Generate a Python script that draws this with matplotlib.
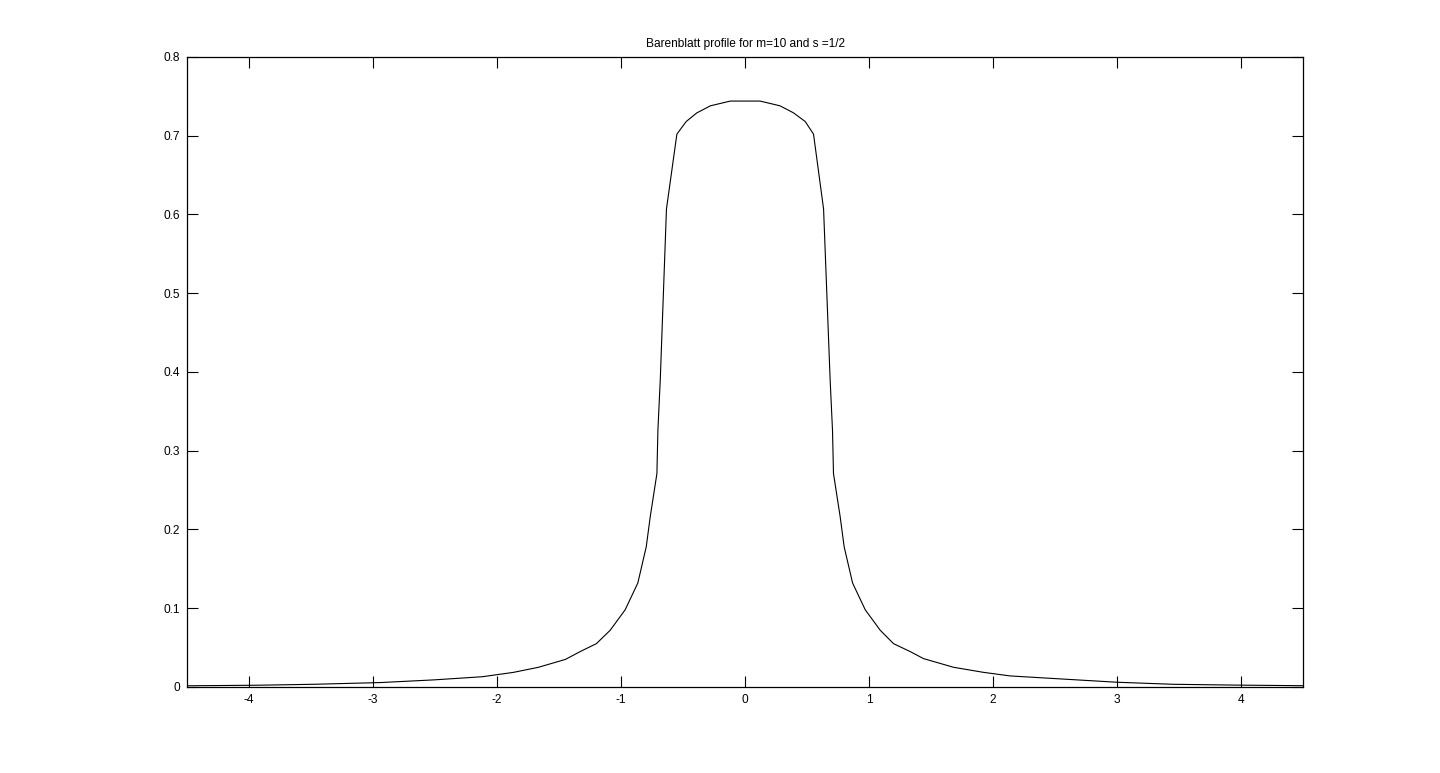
import matplotlib
matplotlib.use("Agg")
import matplotlib.pyplot as plt

# Barenblatt profile, m=10, s=1/2
x = [-4.5, -3.94, -3.48, -2.94, -2.51, -2.12, -1.87, -1.667, -1.45, -1.33,
     -1.2, -1.089, -0.968, -0.866, -0.798, -0.766, -0.712, -0.704, -0.685, -0.635,
     -0.551, -0.476, -0.39, -0.28, -0.12, 0.12, 0.28, 0.39, 0.484, 0.551,
     0.632, 0.685, 0.704, 0.712, 0.766, 0.798, 0.866, 0.968, 1.089, 1.196,
     1.33, 1.438, 1.68, 1.92, 2.137, 2.567, 2.998, 3.45, 3.94, 4.5]
u = [0.0015, 0.0022, 0.0034, 0.0056, 0.0090, 0.013, 0.0185, 0.025, 0.035, 0.045,
     0.055, 0.072, 0.098, 0.132, 0.178, 0.216, 0.271, 0.326, 0.39, 0.607,
     0.702, 0.718, 0.729, 0.738, 0.744, 0.744, 0.738, 0.729, 0.718, 0.702,
     0.607, 0.39, 0.326, 0.271, 0.216, 0.178, 0.132, 0.098, 0.072, 0.055,
     0.045, 0.036, 0.025, 0.0186, 0.014, 0.010, 0.006, 0.0034, 0.0024, 0.0016]

xticks = [-4, -3, -2, -1, 0, 1, 2, 3, 4]
yticks = [0, 0.1, 0.2, 0.3, 0.4, 0.5, 0.6, 0.7, 0.8]
ylabels = ["0", "0.1", "0.2", "0.3", "0.4", "0.5", "0.6", "0.7", "0.8"]

plt.rcParams["font.family"] = ["Liberation Sans", "DejaVu Sans"]
plt.rcParams["axes.unicode_minus"] = False

fig = plt.figure(figsize=(14.4, 7.73), dpi=100)
ax = fig.add_axes([0.13, 0.1113, 0.775, 0.815])

ax.plot(x, u, color="black", linewidth=0.8)

ax.set_xlim(-4.5, 4.5)
ax.set_ylim(0, 0.8)
ax.set_xticks(xticks)
ax.set_xticklabels([str(t) for t in xticks])
ax.set_yticks(yticks)
ax.set_yticklabels(ylabels)

ax.tick_params(direction="in", length=8, width=0.8, top=True, right=True,
               labelsize=8.6, pad=5)
for sp in ax.spines.values():
    sp.set_linewidth(0.9)

ax.set_title("Barenblatt profile for m=10 and s =1/2", fontsize=8.6, pad=7)

fig.savefig("out.png", dpi=100)
